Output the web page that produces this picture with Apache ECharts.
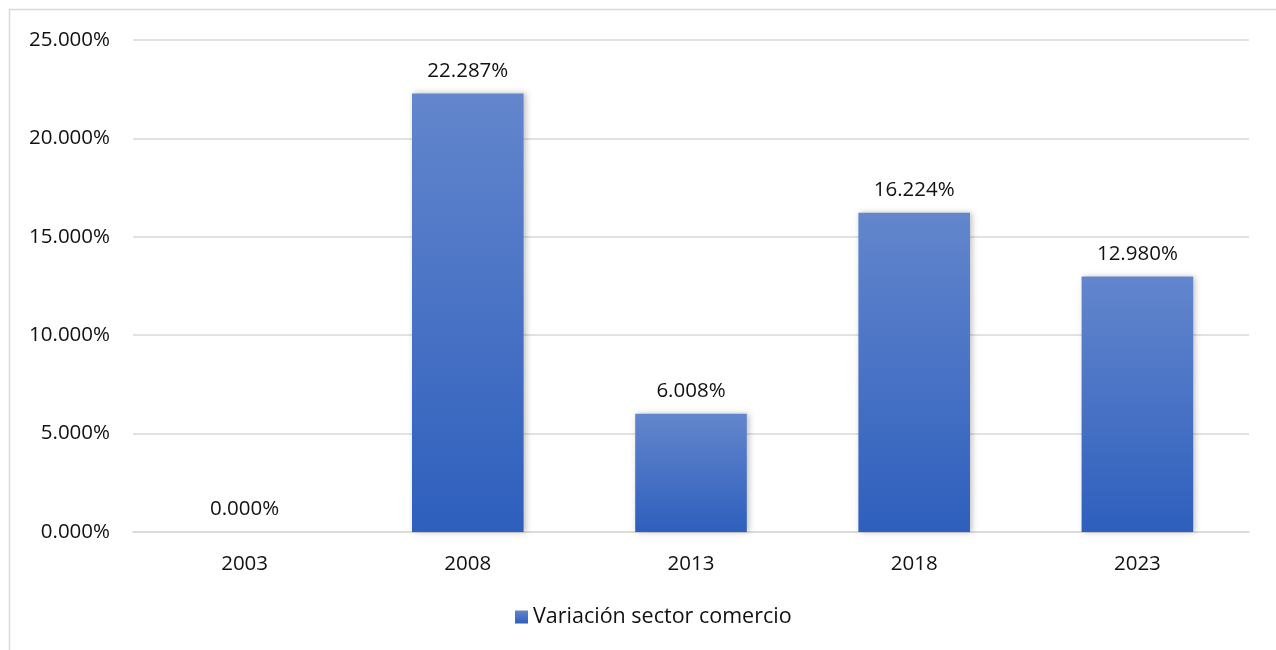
<!DOCTYPE html>
<html><head><meta charset="utf-8">
<script src="https://cdn.jsdelivr.net/npm/echarts@6/dist/echarts.min.js"></script>
<style>html,body{margin:0;padding:0;background:#fff}#c{width:1276px;height:650px}</style>
</head><body><div id="c"></div>
<script>
const categories = ['2003','2008','2013','2018','2023'];
const values = [0.000, 22.287, 6.008, 16.224, 12.980];
const seriesName = 'Variación sector comercio';
const yTicks = [0,5,10,15,20,25];

const chart = echarts.init(document.getElementById('c'), null, {renderer:'canvas'});
const font = 'Open Sans';
const fmt = v => v.toFixed(3) + '%';
chart.setOption({
  animation:false,
  textStyle:{fontFamily:font},
  graphic:[{type:'rect',shape:{x:9.5,y:9.5,width:1300,height:700},style:{fill:'none',stroke:'#d9d9d9',lineWidth:1.5},silent:true}],
  grid:{left:133,right:27,top:40,bottom:118},
  legend:{bottom:17,left:510,itemWidth:13,itemHeight:13,itemGap:7,
    textStyle:{fontSize:21.5,color:'#111',fontFamily:font},
    data:[{name:seriesName,icon:'rect'}]},
  xAxis:{type:'category',data:categories,
    axisLine:{lineStyle:{color:'#d9d9d9',width:1.5}},axisTick:{show:false},
    axisLabel:{fontSize:20.5,color:'#111',margin:22}},
  yAxis:{type:'value',min:yTicks[0],max:yTicks[yTicks.length-1],interval:5,
    axisLine:{show:false},axisTick:{show:false},
    splitLine:{lineStyle:{color:'#d9d9d9',width:1.5}},
    axisLabel:{fontSize:20.5,color:'#111',margin:23,formatter:v=>fmt(v)}},
  series:[{name:seriesName,type:'bar',data:values,barWidth:'50%',
    itemStyle:{color:new echarts.graphic.LinearGradient(0,0,0,1,[{offset:0,color:'#6386cd'},{offset:1,color:'#2e5fbd'}]),
      shadowColor:'rgba(0,0,0,0.25)',shadowBlur:6,shadowOffsetX:2,shadowOffsetY:0},
    label:{show:true,position:'top',distance:12,fontSize:20.5,color:'#111',formatter:p=>fmt(p.value)}}]
});
</script></body></html>
